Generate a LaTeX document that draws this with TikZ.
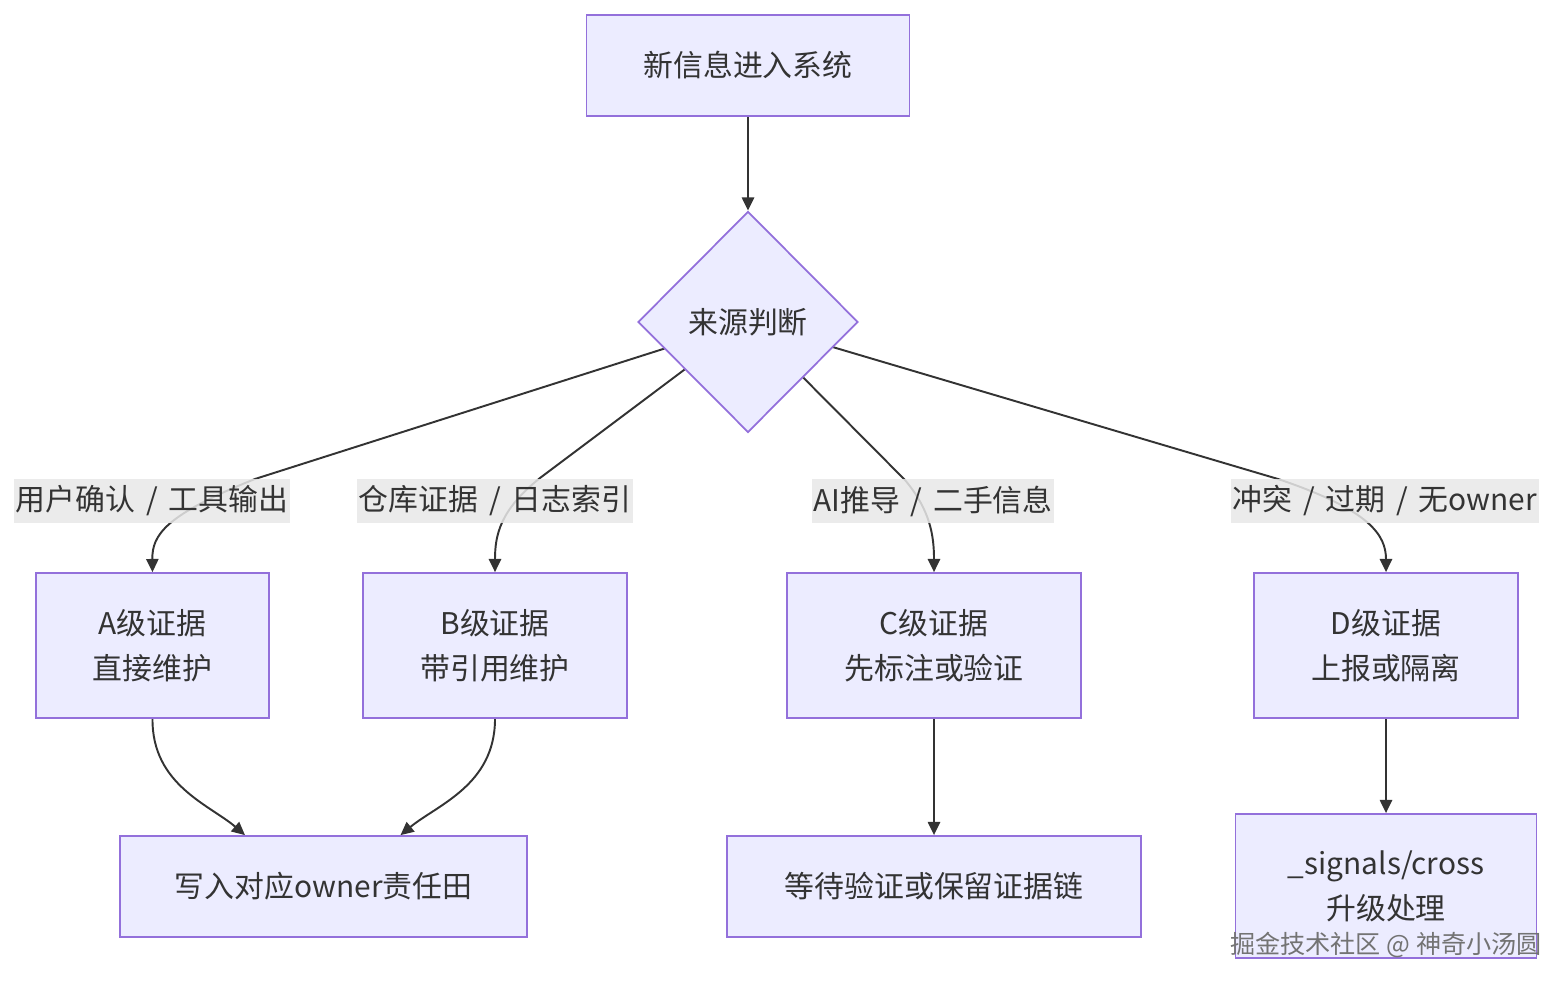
\documentclass[tikz,border=0pt]{standalone}
\usepackage{fontspec}
\usepackage{xcolor}
\usetikzlibrary{shapes.geometric,arrows.meta,backgrounds}
\newfontfamily\cjk{Noto Sans CJK SC}
\definecolor{boxfill}{HTML}{ECECFF}
\definecolor{boxline}{HTML}{9370DB}
\definecolor{ink}{HTML}{333333}
\definecolor{lblfill}{HTML}{E8E8E8}
\newcommand{\sepslash}{\hspace{0.36em}/\hspace{0.36em}}
\tikzset{
  flowbox/.style={draw=boxline,fill=boxfill,line width=1pt,inner sep=0pt,align=center,text=ink,
    font=\cjk\fontsize{17}{25.5}\selectfont},
  choice/.style={flowbox,diamond,minimum width=4.4cm,minimum height=4.42cm},
  edgelbl/.style={fill=lblfill,fill opacity=0.85,text opacity=1,text=ink,inner xsep=1pt,inner ysep=0pt,
    minimum height=0.88cm,font=\cjk\fontsize{17}{20}\selectfont},
  arr/.style={-{Triangle[length=7.5pt,width=7pt]},line width=1.1pt,draw=ink},
}
\begin{document}
\begin{tikzpicture}[x=0.02cm,y=-0.02cm]
        \useasboundingbox (0,0) rectangle (1568,986);
        \node[flowbox,minimum width=6.46cm,minimum height=2.02cm] (input) at (748,65.5) {新信息进入系统};
        \node[choice,below of=input,node distance=5.13cm] (source) {来源判断};
        % edge labels
        \node[edgelbl] (lblA) at (152,501) {用户确认\sepslash 工具输出};
        \node[edgelbl] (lblB) at (495,501) {仓库证据\sepslash 日志索引};
        \node[edgelbl] (lblC) at (933,501) {AI推导\sepslash 二手信息};
        \node[edgelbl] (lblD) at (1385,501) {冲突\sepslash 过期\sepslash 无owner};
        % evidence levels
        \node[flowbox,minimum width=4.66cm,minimum height=2.9cm] (gradeA) at (152.5,645.5) {A级证据\\直接维护};
        \node[flowbox,minimum width=5.28cm,minimum height=2.9cm] (gradeB) at (495,645.5) {B级证据\\带引用维护};
        \node[flowbox,minimum width=5.88cm,minimum height=2.9cm] (gradeC) at (934,645.5) {C级证据\\先标注或验证};
        \node[flowbox,minimum width=5.28cm,minimum height=2.9cm] (gradeD) at (1386,645.5) {D级证据\\上报或隔离};
        % outcomes
        \node[flowbox,minimum width=8.14cm,minimum height=2.02cm] (owner) at (323.5,886.5) {写入对应owner责任田};
        \node[flowbox,minimum width=8.28cm,minimum height=2.02cm,below of=gradeC,node distance=4.82cm] (pending) {等待验证或保留证据链};
        \node[flowbox,minimum width=6.02cm,minimum height=2.88cm,below of=gradeD,node distance=4.81cm] (signals) {\_signals/cross\\升级处理};
        \node[text=black!55,font=\cjk\fontsize{14.3}{16}\selectfont] (mark) at (1386,945) {掘金技术社区 @ 神奇小汤圆};
        \begin{scope}[on background layer]
        \draw[arr] (input) -- (source);
        \draw[arr] (source.center) -- (255,479) .. controls (165,515) and (152,535) .. (gradeA.north);
        \draw[arr] (source.center) -- (540,478) .. controls (500,510) and (495,535) .. (gradeB.north);
        \draw[arr] (source.center) -- (905,480) .. controls (930,510) and (934,535) .. (gradeC.north);
        \draw[arr] (source.center) -- (1278,479) .. controls (1370,510) and (1386,535) .. (gradeD.north);
        \draw[arr] (gradeA.south) .. controls (152,785) and (210,805) .. ([xshift=-1.57cm]owner.north);
        \draw[arr] (gradeB.south) .. controls (495,785) and (437,805) .. ([xshift=1.54cm]owner.north);
        \draw[arr] (gradeC) -- (pending);
        \draw[arr] (gradeD) -- (signals);
        \end{scope}
      \end{tikzpicture}
\end{document}
